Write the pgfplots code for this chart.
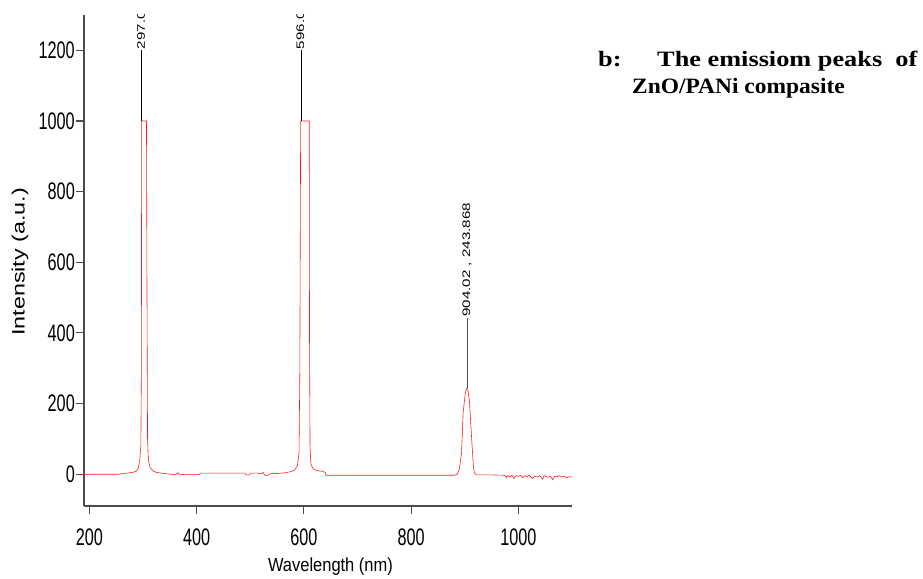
\documentclass[border=0pt]{standalone}
\usepackage{pgfplots}
\pgfplotsset{compat=1.18}
\usepackage{fontspec}
\setmainfont{Liberation Sans}
\newfontfamily\tickfont[FakeStretch=0.68]{Liberation Sans}
\newfontfamily\xlabfont[FakeStretch=0.87]{Liberation Sans}
\newfontfamily\ylabfont[FakeStretch=1.3]{Liberation Sans}
\newfontfamily\peakfont[FakeStretch=1.38]{Liberation Sans}
\newfontfamily\titlefontA[FakeStretch=1.2]{Liberation Serif}
\newfontfamily\titlefontB[FakeStretch=1.07]{Liberation Serif}
\definecolor{axisgray}{HTML}{4D4D4D}
\definecolor{specred}{HTML}{FF2020}
\begin{document}
\begin{tikzpicture}[x=1bp,y=1bp]
\useasboundingbox (0,0) rectangle (923,579);
\begin{axis}[
  at={(84bp,73bp)}, anchor=south west,
  scale only axis, width=488bp, height=491bp,
  xmin=190, xmax=1100, ymin=-90, ymax=1300,
  axis x line=bottom, axis y line=left,
  axis line style={-, draw=axisgray, line width=1.1bp},
  tick style={draw=axisgray, line width=1.1bp},
  tick align=outside, major tick length=8bp,
  xtick={200,400,600,800,1000}, ytick={0,200,...,1200},
  minor tick num=0,
  ticklabel style={font=\tickfont\fontsize{24}{24}\selectfont},
  /pgf/number format/assume math mode=true,
  /pgf/number format/set thousands separator={},
  yticklabel style={inner sep=1bp},
  xticklabel style={inner sep=2bp, yshift=-13bp},
  xlabel={Wavelength (nm)}, ylabel={Intensity (a.u.)},
  xlabel style={font=\xlabfont\fontsize{19}{19}\selectfont, at={(axis description cs:0.505,-0.124)}, anchor=center},
  ylabel style={font=\ylabfont\fontsize{18}{18}\selectfont, at={(axis description cs:-0.131,0.497)}, anchor=center},
]
\addplot[specred, line width=0.6bp] coordinates {
(190,0) (200,0) (220,0) (240,0) (255,0) (262,2) (270,3) (280,5) (287,8) (291,15) (294,40) (296,80) (297,300) (297.5,1000) (306.5,1000) (307.5,500) (308.5,100) (310,40) (313,20) (318,10) (325,5) (335,3) (345,1) (352,0) (358,-2) (362,1) (365,4) (368,0) (375,-1) (390,-1) (405,-1) (407,3) (440,3) (470,3) (490,3) (493,-2) (498,-2) (501,3) (515,3) (520,1) (524,5) (527,-3) (533,-3) (536,1) (550,2) (565,4) (575,7) (583,12) (588,25) (591,60) (592.5,300) (594,1000) (610,1000) (610.5,400) (611.5,80) (613,30) (617,15) (625,10) (635,8) (640,5) (641,-3) (660,-3) (700,-3) (750,-3) (800,-3) (850,-3) (880,-3) (886,0) (890,15) (894,60) (897,173) (901,230) (904,244) (906,235) (908.5,211) (910,175) (913,97) (916,25) (918,3) (922,-2) (950,-2) (975,-3) (978,-10) (980,-4) (984,-8) (988,-3) (992,-12) (996,-4) (1000,-6) (1004,-3) (1008,-10) (1012,-4) (1016,-7) (1020,-3) (1026,-12) (1030,-5) (1035,-8) (1040,-4) (1045,-14) (1048,-4) (1055,-9) (1060,-5) (1064,-16) (1068,-5) (1072,-7) (1076,-4) (1080,-8) (1085,-6) (1090,-10) (1095,-7) (1100,-8)
};
\addplot[black, line width=0.6bp] coordinates {(297.5,1000) (297.5,1200)};
\addplot[black, line width=0.6bp] coordinates {(594.5,1000) (594.5,1200)};
\addplot[black!70, line width=0.6bp] coordinates {(904,244) (904,443)};
\node[rotate=90, anchor=west, inner sep=1bp, font=\peakfont\fontsize{11}{11}\selectfont] at (axis cs:297.5,1200) {297.02 , 1000};
\node[rotate=90, anchor=west, inner sep=1bp, font=\peakfont\fontsize{11}{11}\selectfont] at (axis cs:594.5,1200) {596.02 , 1000};
\node[rotate=90, anchor=west, inner sep=1bp, font=\peakfont\fontsize{11}{11}\selectfont] at (axis cs:904,443) {904.02 , 243.868};
\end{axis}
\node[anchor=base west, inner sep=0, font=\titlefontA\bfseries\fontsize{22}{22}\selectfont] at (598,512) {b:};
\node[anchor=base west, inner sep=0, font=\titlefontA\bfseries\fontsize{22}{22}\selectfont] at (657,512) {The emissiom peaks\ \ of};
\node[anchor=base west, inner sep=0, font=\titlefontB\bfseries\fontsize{22}{22}\selectfont] at (632,485) {ZnO/PANi compasite};
\end{tikzpicture}
\end{document}
